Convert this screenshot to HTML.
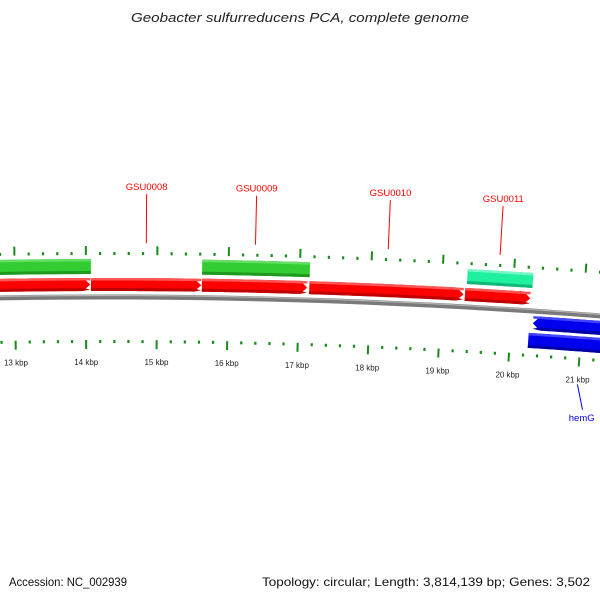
<!DOCTYPE html>
<html><head><meta charset="utf-8"><style>
body{margin:0;background:#fff;}
svg{display:block;font-family:"Liberation Sans",sans-serif;}
</style></head><body>
<svg id="map" width="600" height="600" viewBox="0 0 600 600">
<text x="131" y="22" textLength="338" lengthAdjust="spacingAndGlyphs" font-size="13" font-style="italic" fill="#222">Geobacter sulfurreducens PCA, complete genome</text>
<text x="9" y="586" textLength="118" lengthAdjust="spacingAndGlyphs" font-size="12" fill="#111">Accession: NC_002939</text>
<text x="262" y="586" textLength="328" lengthAdjust="spacingAndGlyphs" font-size="12" fill="#111">Topology: circular; Length: 3,814,139 bp; Genes: 3,502</text>
<g id="layer"></g>
</svg>
<script>
// data (kbp positions)
const tickKbp = [12, 13, 14, 15, 16, 17, 18, 19, 20, 21, 22];
const tickLabels = ["12 kbp","13 kbp","14 kbp","15 kbp","16 kbp","17 kbp","18 kbp","19 kbp","20 kbp","21 kbp","22 kbp"];
const fwdGeneStarts = [11.0, 14.07, 15.63, 17.14, 19.33];
const fwdGeneEnds = [14.06, 15.62, 17.11, 19.31, 20.25];
const fwdGeneNames = ["", "GSU0008", "GSU0009", "GSU0010", "GSU0011"];
const greenStarts = [11.0, 15.63];
const greenEnds = [14.07, 17.14];
const tealStarts = [19.35];
const tealEnds = [20.27];
const revGeneStarts = [20.31];
const revGeneEnds = [23.0];
const revGeneNames = ["hemG"];
const blueStarts = [20.26];
const blueEnds = [23.0];

const NS="http://www.w3.org/2000/svg";
const layer=document.getElementById('layer');
const CX=107, R0=6450, CY=297+R0, PXK=71;
function theta(k){return ((k-13)*PXK+15-CX)/R0;}
function pt(k,off){const r=R0-off, t=theta(k);return [CX+r*Math.sin(t), CY-r*Math.cos(t)];}
function el(tag,attrs){const e=document.createElementNS(NS,tag);for(const a in attrs)e.setAttribute(a,attrs[a]);layer.appendChild(e);return e;}
function arcPts(k1,k2,off){const n=30,p=[];for(let i=0;i<=n;i++)p.push(pt(k1+(k2-k1)*i/n,off));return p;}
function band(k1,k2,o1,o2,dir){
  const head=7/PXK, mid=(o1+o2)/2;
  let pts=[];
  if(dir===1){const ke=Math.max(k1,k2-head);pts=arcPts(k1,ke,o1).concat([pt(k2,mid)]).concat(arcPts(k1,ke,o2).reverse());}
  else if(dir===-1){const ks=Math.min(k2,k1+head);pts=[pt(k1,mid)].concat(arcPts(ks,k2,o1)).concat(arcPts(ks,k2,o2).reverse());}
  else pts=arcPts(k1,k2,o1).concat(arcPts(k1,k2,o2).reverse());
  return pts.map(p=>p[0].toFixed(2)+','+p[1].toFixed(2)).join(' ');
}
function arcPath(k1,k2,off){return 'M'+arcPts(k1,k2,off).map(p=>p[0].toFixed(2)+','+p[1].toFixed(2)).join(' L');}

let b=el('path',{d:arcPath(10,24,0),stroke:'#7a7a7a','stroke-width':5,fill:'none'});


el('path',{d:arcPath(10,24,-1.5),stroke:'#b5b5b5','stroke-width':1.2,fill:'none'});

function drawGenes(starts,ends,o1,o2,dir,col,dark,light,name){
  for(let i=0;i<starts.length;i++){
    const g=el('polygon',{points:band(starts[i],ends[i],o1,o2,dir),fill:col});
    
    
    el('polygon',{points:band(starts[i],ends[i],o2-3,o2,dir),fill:dark});
    el('polygon',{points:band(starts[i],ends[i],o1,o1+2.5,0),fill:light});
  }
}
drawGenes(greenStarts,greenEnds,-38,-23,0,'#33cc33','#1e9a1e','#66dd66','green-feature');
drawGenes(fwdGeneStarts,fwdGeneEnds,-19,-6,1,'#ff0000','#c00000','#ff5555','forward-gene');
drawGenes(tealStarts,tealEnds,-38,-23,0,'#1ff0a0','#10b878','#77f7c8','teal-feature');
drawGenes(revGeneStarts,revGeneEnds,5,19,-1,'#0000ee','#0000a8','#4444ff','reverse-gene');
drawGenes(blueStarts,blueEnds,22,37,0,'#0000ee','#0000a8','#4444ff','blue-feature');

for(let k=10;k<=24.001;k+=0.2){
  const major=Math.abs(k-Math.round(k))<0.01;
  const o1=major?-51:-45, o2=-42;
  const a=pt(k,o1), c=pt(k,o2);
  const t=el('line',{x1:a[0],y1:a[1],x2:c[0],y2:c[1],stroke:'#1a8a1a','stroke-width':major?2:2.2});
  
  
  const a2=pt(k,43), c2=pt(k,major?52:46);
  const t2=el('line',{x1:a2[0],y1:a2[1],x2:c2[0],y2:c2[1],stroke:'#1a8a1a','stroke-width':major?2:2.2});
  
  
}
for(let i=0;i<tickKbp.length;i++){
  const p=pt(tickKbp[i],68);
  const t=el('text',{x:p[0],y:p[1],'text-anchor':'middle','font-size':8,fill:'#222'});
  t.textContent=tickLabels[i];
  
  
}
for(let i=0;i<fwdGeneNames.length;i++){
  if(!fwdGeneNames[i])continue;
  const k=(fwdGeneStarts[i]+fwdGeneEnds[i])/2;
  const a=pt(k,-54), c=pt(k,-103), tp=pt(k,-107);
  const l=el('line',{x1:a[0],y1:a[1],x2:c[0],y2:c[1],stroke:'#ff0000','stroke-width':1});
  
  
  const t=el('text',{x:tp[0],y:tp[1],'text-anchor':'middle','font-size':9.5,fill:'#ff0000'});
  t.textContent=fwdGeneNames[i];
  
  
}
for(let i=0;i<revGeneNames.length;i++){
  const k=21.0;
  const a=pt(k,70), c=pt(21.1,95), tp=pt(21.1,106);
  const l=el('line',{x1:a[0],y1:a[1],x2:c[0],y2:c[1],stroke:'#0000ee','stroke-width':1});
  
  
  const t=el('text',{x:tp[0],y:tp[1],'text-anchor':'middle','font-size':9.5,fill:'#0000ee'});
  t.textContent=revGeneNames[i];
  
  
}
</script>
</body></html>
